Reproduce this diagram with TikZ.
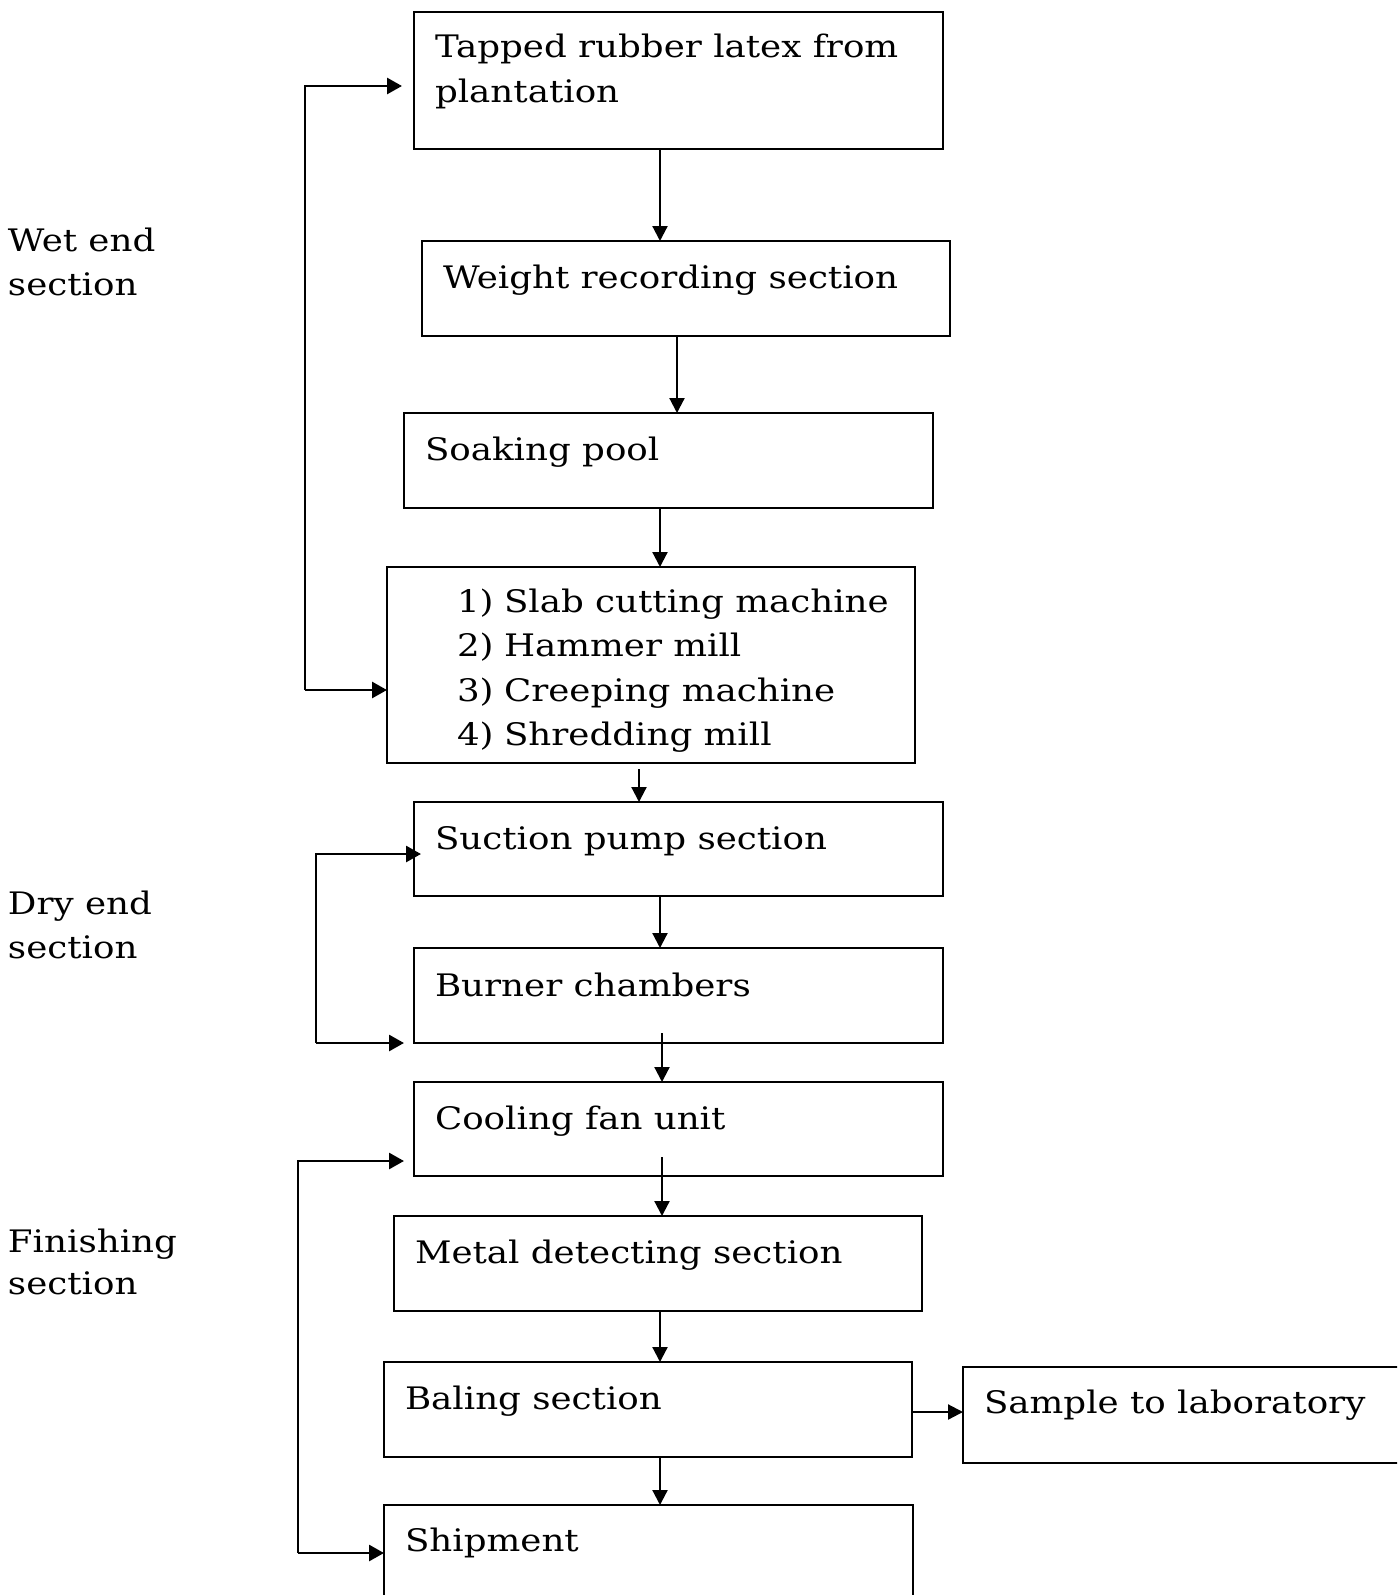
\documentclass[tikz,border=0pt]{standalone}
\usepackage{fontspec}
\setmainfont{DejaVu Serif}[FakeStretch=1.15]
\usetikzlibrary{arrows.meta}
\begin{document}
\begin{tikzpicture}[x=1pt,y=-1pt,
  box/.style={draw,line width=2.2pt,inner sep=0pt,outer sep=0pt,anchor=north west},
  txt/.style={inner sep=0pt,outer sep=0pt,anchor=base west,font=\fontsize{31}{44}\selectfont},
  arr/.style={line width=2.2pt,-{Triangle[length=15pt,width=15pt]}},
  fb/.style={line width=2.8pt,-{Triangle[length=15pt,width=16pt]}}]
\clip (0,0) rectangle (1397,1595);
\fill[white] (0,0) rectangle (1397,1595);
% boxes
\node[box,minimum width=529pt,minimum height=137pt] (b1) at (414,12) {};
\node[box,minimum width=528pt,minimum height=95pt] (b2) at (422,241) {};
\node[box,minimum width=529pt,minimum height=95pt] (b3) at (404,413) {};
\node[box,minimum width=528pt,minimum height=196pt] (b4) at (387,567) {};
\node[box,minimum width=529pt,minimum height=94pt] (b5) at (414,802) {};
\node[box,minimum width=529pt,minimum height=95pt] (b6) at (414,948) {};
\node[box,minimum width=529pt,minimum height=94pt] (b7) at (414,1082) {};
\node[box,minimum width=528pt,minimum height=95pt] (b8) at (394,1216) {};
\node[box,minimum width=528pt,minimum height=95pt] (b9) at (384,1362) {};
\node[box,minimum width=480pt,minimum height=96pt] (b10) at (963,1367) {};
\node[box,minimum width=529pt,minimum height=140pt] (b11) at (384,1505) {};
% texts
\node[txt] (t1a) at (435,58) {Tapped rubber latex from};
\node[txt] (t1b) at (435,102) {plantation};
\node[txt] (t2) at (443,288) {Weight recording section};
\node[txt] (t3) at (425,460) {Soaking pool};
\node[txt] (t4a) at (457,612) {1)};
\node[txt] (t4b) at (457,656) {2)};
\node[txt] (t4c) at (457,701) {3)};
\node[txt] (t4d) at (457,745) {4)};
\node[txt] (t4e) at (504,612) {Slab cutting machine};
\node[txt] (t4f) at (504,656) {Hammer mill};
\node[txt] (t4g) at (504,701) {Creeping machine};
\node[txt] (t4h) at (504,745) {Shredding mill};
\node[txt] (t5) at (435,849) {Suction pump section};
\node[txt] (t6) at (435,996) {Burner chambers};
\node[txt] (t7) at (435,1129) {Cooling fan unit};
\node[txt] (t8) at (415,1263) {Metal detecting section};
\node[txt] (t9) at (405,1409) {Baling section};
\node[txt] (t10) at (984,1413) {Sample to laboratory};
\node[txt] (t11) at (405,1551) {Shipment};
% section labels
\node[txt] (s1a) at (8,251) {Wet end};
\node[txt] (s1b) at (8,295) {section};
\node[txt] (s2a) at (8,914) {Dry end};
\node[txt] (s2b) at (8,958) {section};
\node[txt] (s3a) at (8,1252) {Finishing};
\node[txt] (s3b) at (8,1294) {section};
% helper coordinates
\coordinate (xa) at (660,0);
\coordinate (xb) at (677,0);
\coordinate (xc) at (639,0);
\coordinate (xd) at (662,0);
\coordinate (c6) at (662,1033);
\coordinate (c7) at (662,1157);
\coordinate (c4) at (639,769);
% main arrows
\draw[arr] (xa |- b1.south) -- (xa |- b2.north);
\draw[arr] (xb |- b2.south) -- (xb |- b3.north);
\draw[arr] (xa |- b3.south) -- (xa |- b4.north);
\draw[arr] (c4) -- (xc |- b5.north);
\draw[arr] (xa |- b5.south) -- (xa |- b6.north);
\draw[arr] (c6) -- (xd |- b7.north);
\draw[arr] (c7) -- (xd |- b8.north);
\draw[arr] (xa |- b8.south) -- (xa |- b9.north);
\draw[arr] (xa |- b9.south) -- (xa |- b11.north);
\coordinate (y10) at (0,1412);
\draw[arr] (b9.east |- y10) -- (b10.west |- y10);
% feedback arrows
\coordinate (f1t) at (402,86);
\coordinate (f1b) at (387,690);
\coordinate (f1c) at (305,690);
\draw[fb] (f1c) -- (f1c |- f1t) -- (f1t);
\draw[fb] (f1c) -- (f1b);
\coordinate (f2t) at (421,854);
\coordinate (f2b) at (404,1043);
\coordinate (f2c) at (316,1043);
\draw[fb] (f2c) -- (f2c |- f2t) -- (f2t);
\draw[fb] (f2c) -- (f2b);
\coordinate (f3t) at (404,1161);
\coordinate (f3b) at (b11.west |- 0,1553);
\coordinate (f3c) at (298,1553);
\draw[fb] (f3c) -- (f3c |- f3t) -- (f3t);
\draw[fb] (f3c) -- (f3b);
\end{tikzpicture}
\end{document}
